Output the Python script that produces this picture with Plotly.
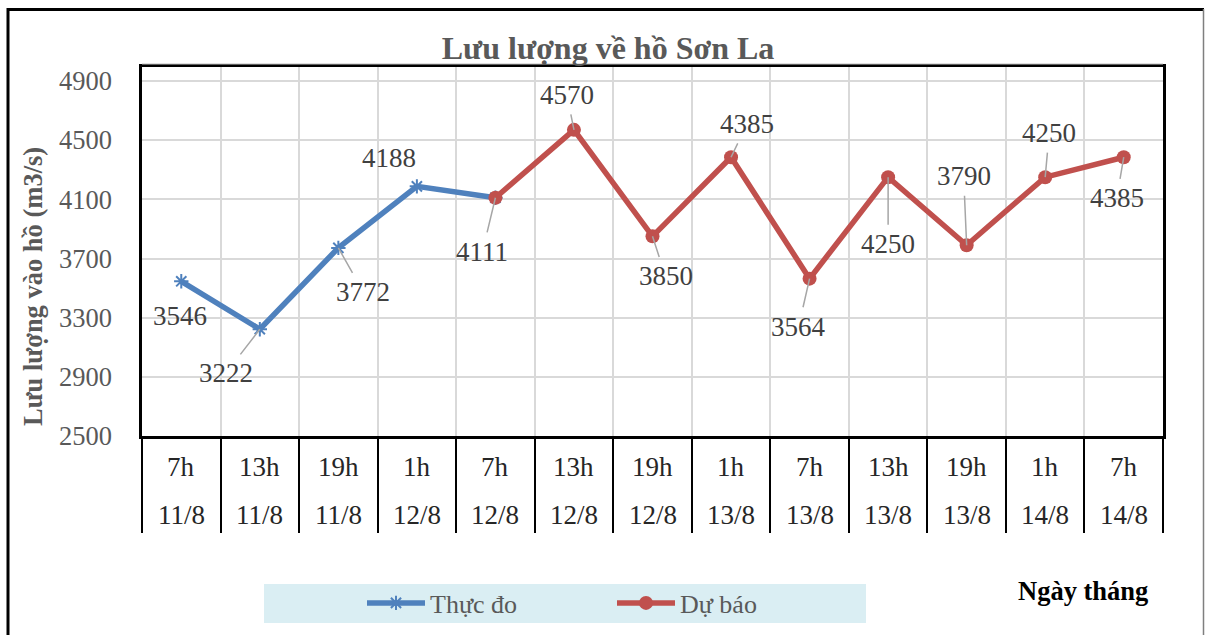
import plotly.graph_objects as go

# ---------------- data ----------------
hours = ["7h", "13h", "19h", "1h", "7h", "13h", "19h", "1h", "7h", "13h", "19h", "1h", "7h"]
dates = ["11/8", "11/8", "11/8", "12/8", "12/8", "12/8", "12/8", "13/8", "13/8", "13/8", "13/8", "14/8", "14/8"]
categories = [f"{h} {d}" for h, d in zip(hours, dates)]

measured = [3546, 3222, 3772, 4188, 4111]            # Thực đo
forecast = [4111, 4570, 3850, 4385, 3564, 4250, 3790, 4250, 4385]  # Dự báo
forecast_start = 4
y_ticks = [2500, 2900, 3300, 3700, 4100, 4500, 4900]

# label placement (pixel offsets from point, leader line on/off)
measured_label_style = [(-1, 35, False), (-34, 44, True), (25, 44, True), (-28, -28, False), (-13, 54, True)]
forecast_label_style = [None, (-7, -35, True), (13, 40, True), (16, -33, True), (-11, 48, True),
                        (0, 67, True), (-3, -69, True), (4, -44, True), (-7, 41, True)]

# ---------------- layout geometry ----------------
W, H = 1206, 635
L, R, T, B = 142, 1163, 67, 436


def px(xp):
    return (xp - L) / (R - L)


def py(yp):
    return (B - yp) / (B - T)


FONT = "Liberation Serif, Times New Roman, serif"
BLUE = "#4F81BD"
RED = "#C0504D"
GRID = "#D9D9D9"
TXT = "#595959"

fig = go.Figure()
fig.add_trace(go.Scatter(
    x=categories[:len(measured)], y=measured, mode="lines+markers", name="Thực đo",
    line=dict(color=BLUE, width=5.5),
    marker=dict(symbol="asterisk-open", size=12, color=BLUE, line=dict(color=BLUE, width=2)),
    legend="legend", cliponaxis=False, hoverinfo="skip"))
fig.add_trace(go.Scatter(
    x=categories[forecast_start:], y=forecast, mode="lines+markers", name="Dự báo",
    line=dict(color=RED, width=5.5),
    marker=dict(symbol="circle", size=14, color=RED),
    legend="legend2", cliponaxis=False, hoverinfo="skip"))

annotations = []
# data labels
for xs, ys, styles in ((categories[:len(measured)], measured, measured_label_style),
                       (categories[forecast_start:], forecast, forecast_label_style)):
    for xc, yv, st in zip(xs, ys, styles):
        if st is None:
            continue
        dx, dy, leader = st
        a = dict(x=xc, y=yv, xref="x", yref="y", text=str(yv),
                 font=dict(family=FONT, size=27, color="#404040"))
        if leader:
            a.update(showarrow=True, ax=dx, ay=dy, arrowhead=0, arrowwidth=1.5,
                     arrowcolor="#A6A6A6", standoff=0, startstandoff=3)
        else:
            a.update(showarrow=False, xshift=dx, yshift=-dy)
        annotations.append(a)

# category labels (two rows)
for c, h, d in zip(categories, hours, dates):
    annotations.append(dict(x=c, y=py(467), xref="x", yref="paper", text=h, showarrow=False,
                            yanchor="middle", font=dict(family=FONT, size=27, color="#262626")))
    annotations.append(dict(x=c, y=py(515), xref="x", yref="paper", text=d, showarrow=False,
                            yanchor="middle", font=dict(family=FONT, size=27, color="#262626")))

# y-axis title
annotations.append(dict(x=px(33), y=py(287), xref="paper", yref="paper", textangle=-90,
                        text="<b>Lưu lượng vào hồ (m3/s)</b>", showarrow=False,
                        xanchor="center", yanchor="middle",
                        font=dict(family=FONT, size=26.5, color=TXT)))
# x-axis title
annotations.append(dict(x=px(1083), y=py(591), xref="paper", yref="paper",
                        text="<b>Ngày tháng</b>", showarrow=False,
                        xanchor="center", yanchor="middle",
                        font=dict(family=FONT, size=26.5, color="#000000")))

shapes = [
    # legend background
    dict(type="rect", xref="paper", yref="paper", x0=px(264), x1=px(866), y0=py(623), y1=py(584),
         fillcolor="#DAEEF3", line=dict(width=0), layer="below"),
    # outer frame
    dict(type="line", xref="paper", yref="paper", x0=px(7), x1=px(1204), y0=py(9.5), y1=py(9.5),
         line=dict(color="black", width=3)),
    dict(type="line", xref="paper", yref="paper", x0=px(8), x1=px(8), y0=py(8), y1=py(640),
         line=dict(color="black", width=3)),
    dict(type="line", xref="paper", yref="paper", x0=px(1203.5), x1=px(1203.5), y0=py(9), y1=py(640),
         line=dict(color="#7F7F7F", width=1.5)),
    # thin grey line just above plot box
    dict(type="line", xref="paper", yref="paper", x0=0, x1=1, y0=py(64), y1=py(64),
         line=dict(color="#BFBFBF", width=1)),
]

legend_common = dict(orientation="h", xref="container", yref="container", y=1 - 603 / H,
                     xanchor="left", yanchor="middle", itemwidth=58,
                     font=dict(family=FONT, size=26, color=TXT), bgcolor="rgba(0,0,0,0)")

fig.update_layout(
    width=W, height=H,
    margin=dict(l=L, r=W - R, t=T, b=H - B),
    paper_bgcolor="white", plot_bgcolor="white",
    font=dict(family=FONT, size=26, color=TXT),
    title=dict(text="<b>Lưu lượng về hồ Sơn La</b>", x=608 / W, xref="container",
               y=1 - 48 / H, yref="container", xanchor="center", yanchor="middle",
               font=dict(family=FONT, size=32, color=TXT)),
    xaxis=dict(type="category", categoryorder="array", categoryarray=categories,
               range=[-0.5, len(categories) - 0.5], tickson="boundaries",
               ticks="outside", ticklen=94, tickwidth=1.5, tickcolor="black",
               showticklabels=False, showgrid=True, gridcolor=GRID, gridwidth=2,
               showline=True, linecolor="black", linewidth=2.5, mirror=True,
               zeroline=False, fixedrange=True),
    yaxis=dict(range=[2500, 4995], tickvals=y_ticks, ticks="outside", ticklen=22,
               tickcolor="rgba(0,0,0,0)", tickfont=dict(family=FONT, size=26.5, color=TXT),
               showgrid=True, gridcolor=GRID, gridwidth=2, showline=True,
               linecolor="black", linewidth=2.5, mirror=True, zeroline=False,
               fixedrange=True),
    legend=dict(x=362 / W, **legend_common),
    legend2=dict(x=612 / W, **legend_common),
    showlegend=True,
    hovermode=False,
    annotations=annotations,
    shapes=shapes,
)

fig.write_html("out.html", config={"displayModeBar": False},
               post_script="document.body.style.margin='0';document.body.style.overflow='hidden';")
